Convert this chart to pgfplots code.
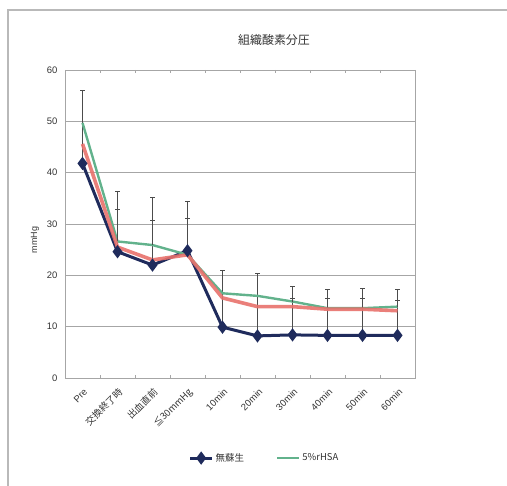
\documentclass[border=0pt]{standalone}
\usepackage{fontspec}
\setmainfont{Liberation Sans}
\newfontfamily\cjk{Noto Sans CJK JP}
\usepackage{pgfplots}
\usepackage{pgfplotstable}
\pgfplotsset{compat=1.18}

\definecolor{navy}{HTML}{1F2B5C}
\definecolor{sage}{HTML}{62B28C}
\definecolor{salmon}{HTML}{E8716C}
\definecolor{txt}{HTML}{333333}
\definecolor{gridc}{HTML}{A6A6A6}

% time point, mean and upper SD per group
\pgfplotstableread{
x  none  noneErr  hsa   red
0  41.8  14.3     49.7  45.6
1  24.6  11.7     26.6  25.5
2  22.0  13.2     25.9  23.0
3  24.8   9.6     24.0  24.0
4   9.9  11.0     16.5  15.6
5   8.2  12.1     16.0  13.9
6   8.4   9.5     14.9  13.9
7   8.3   8.9     13.6  13.4
8   8.3   9.2     13.6  13.4
9   8.3   8.9     13.9  13.1
}\datatab

% upper SD of the 5%rHSA group where it is shown
\pgfplotstableread{
x  hsa   hsaErr
1  26.6  6.3
2  25.9  4.8
3  24.0  7.1
6  14.9  0.6
7  13.6  1.9
8  13.6  1.9
9  13.9  1.3
}\hsaerr

\begin{document}
\begin{tikzpicture}[x=1bp,y=1bp]
\path[use as bounding box] (0,0) rectangle (507,486);
\draw[gray!55, line width=1.2bp] (8,0) -- (8,476) -- (507,476);
\node[txt, font=\cjk\fontsize{12}{14}\selectfont] at (274,446) {組織酸素分圧};
\node[txt, rotate=90, font=\fontsize{9}{11}\selectfont] at (35,246) {mmHg};

\begin{axis}[
  at={(65bp,108bp)}, anchor=south west,
  scale only axis, width=350bp, height=308bp,
  xmin=-0.5, xmax=9.5, ymin=0, ymax=60,
  ytick={0,10,...,60},
  xtick={0,...,9},
  xticklabels={Pre,{\cjk 交換終了時},{\cjk 出血直前},{\cjk ≦30mmHg},10min,20min,30min,40min,50min,60min},
  minor xtick={-0.5,0.5,...,9.5},
  major tick length=0pt, minor tick length=3bp, tick align=inside,
  minor tick style={gridc},
  ymajorgrids, major grid style={gridc, line width=0.8bp},
  axis line style={gridc, line width=0.8bp},
  /pgf/number format/assume math mode=true,
  yticklabel style={txt, font=\fontsize{9.5}{11}\selectfont, xshift=-4bp},
  xticklabel style={txt, font=\fontsize{9.5}{11}\selectfont, rotate=45, anchor=east, yshift=-11bp, xshift=-3bp},
  legend style={at={(0.57,-0.26)}, anchor=center, draw=none, fill=none,
    legend columns=2, font=\cjk\fontsize{9.5}{11}\selectfont, text=txt,
    /tikz/every even column/.append style={column sep=30bp}},
  legend cell align=left,
  legend image code/.code={\draw[#1] (0bp,0bp) -- (22bp,0bp); \path[#1, mark repeat=1] plot coordinates {(11bp,0bp)};},
  error bars/error bar style={gray!60!black, line width=0.6bp},
  error bars/error mark options={rotate=90, mark size=2.5bp, gray!60!black, line width=0.6bp},
]
\addplot[navy, line width=3bp, mark=diamond*, mark size=4.2bp,
  error bars/.cd, y dir=plus, y explicit]
  table[x=x, y=none, y error=noneErr] {\datatab};
\addlegendentry{無蘇生}
\addplot[sage, line width=2.4bp]
  table[x=x, y=hsa] {\datatab};
\addlegendentry{5\%rHSA}
\addplot[draw=none, mark=none, forget plot,
  error bars/.cd, y dir=plus, y explicit]
  table[x=x, y=hsa, y error=hsaErr] {\hsaerr};
\addplot[salmon, line width=3.6bp, opacity=0.9, forget plot]
  table[x=x, y=red] {\datatab};
\end{axis}
\end{tikzpicture}
\end{document}
